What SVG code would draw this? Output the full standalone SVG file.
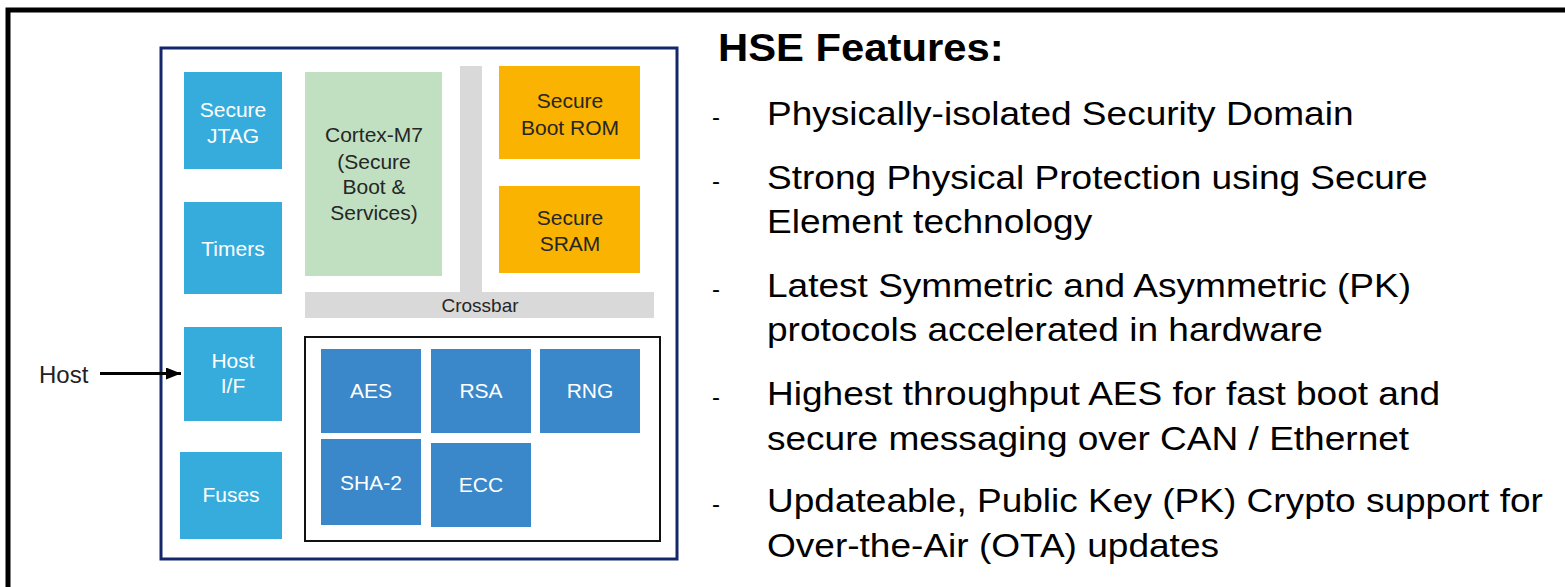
<svg xmlns="http://www.w3.org/2000/svg" width="1565" height="587" viewBox="0 0 1565 587">
<style>
text{font-family:"Liberation Sans",Arial,sans-serif}
.lb{fill:#36ACDD}
.cb{fill:#3A88C9}
.gr{fill:#C0E0C1}
.or{fill:#F9B300}
.gy{fill:#D9D9D9}
.w{fill:#FFFFFF;font-size:21px;text-anchor:middle}
.d{fill:#262626;font-size:21px;text-anchor:middle}
.f{fill:#000;font-size:32.5px}
.dash{fill:#000;font-size:24px}
</style>
<defs>
<marker id="ah" markerWidth="15" markerHeight="12" refX="15" refY="6" orient="auto" markerUnits="userSpaceOnUse">
<path d="M0,0 L15,6 L0,12 Z" fill="#000"/>
</marker>
</defs>
<rect x="8" y="10" width="1600" height="700" fill="#fff" stroke="#000" stroke-width="5"/>
<g id="hse">
<rect x="161" y="48" width="516" height="511" fill="#fff" stroke="#13276A" stroke-width="3"/>
</g>
<g id="jtag"><rect class="lb" x="184" y="72" width="98" height="97"/><text class="w" x="233" y="117">Secure</text><text class="w" x="233" y="143">JTAG</text></g>
<g id="timers"><rect class="lb" x="184" y="202" width="98" height="92"/><text class="w" x="233" y="256">Timers</text></g>
<g id="hostif"><rect class="lb" x="184" y="327" width="98" height="94"/><text class="w" x="233" y="368">Host</text><text class="w" x="233" y="393">I/F</text></g>
<g id="fuses"><rect class="lb" x="180" y="452" width="102" height="87"/><text class="w" x="231" y="502">Fuses</text></g>
<g id="cortex"><rect class="gr" x="305" y="72" width="137" height="204"/><text class="d" x="374" y="142">Cortex-M7</text><text class="d" x="374" y="169">(Secure</text><text class="d" x="374" y="194">Boot &amp;</text><text class="d" x="374" y="220">Services)</text></g>
<g id="crossbar"><rect class="gy" x="460" y="66" width="22" height="230"/><rect class="gy" x="305" y="292" width="349" height="26"/><text class="d" x="480" y="312" style="font-size:19px">Crossbar</text></g>
<g id="bootrom"><rect class="or" x="499" y="66" width="141" height="93"/><text class="d" x="570" y="108">Secure</text><text class="d" x="570" y="135">Boot ROM</text></g>
<g id="sram"><rect class="or" x="499" y="186" width="141" height="87"/><text class="d" x="570" y="225">Secure</text><text class="d" x="570" y="251">SRAM</text></g>
<g id="crypto"><rect x="305" y="337" width="355" height="204" fill="#fff" stroke="#111" stroke-width="2"/></g>
<g id="aes"><rect class="cb" x="321" y="349" width="100" height="84"/><text class="w" x="371" y="398">AES</text></g>
<g id="rsa"><rect class="cb" x="431" y="349" width="100" height="84"/><text class="w" x="481" y="398">RSA</text></g>
<g id="rng"><rect class="cb" x="540" y="349" width="100" height="84"/><text class="w" x="590" y="398">RNG</text></g>
<g id="sha2"><rect class="cb" x="321" y="439" width="100" height="86"/><text class="w" x="371" y="490">SHA-2</text></g>
<g id="ecc"><rect class="cb" x="431" y="443" width="100" height="84"/><text class="w" x="481" y="492">ECC</text></g>
<g id="host"><text x="39" y="383" style="font-size:24px;fill:#222">Host</text></g>
<g id="connectors"><line x1="100" y1="373.5" x2="181" y2="373.5" stroke="#000" stroke-width="3" marker-end="url(#ah)"/></g>
<g id="features">
<text transform="translate(718,61) scale(1.1,1)" style="font-size:38px;font-weight:bold;fill:#000">HSE Features:</text>
<text class="dash" x="712" y="125">-</text>
<text class="dash" x="712" y="189">-</text>
<text class="dash" x="712" y="297">-</text>
<text class="dash" x="712" y="405">-</text>
<text class="dash" x="712" y="512">-</text>
<g transform="translate(767,0) scale(1.14,1)">
<text class="f" x="0" y="125">Physically-isolated Security Domain</text>
<text class="f" x="0" y="189">Strong Physical Protection using Secure</text><text class="f" x="0" y="233">Element technology</text>
<text class="f" x="0" y="297">Latest Symmetric and Asymmetric (PK)</text><text class="f" x="0" y="341">protocols accelerated in hardware</text>
<text class="f" x="0" y="405">Highest throughput AES for fast boot and</text><text class="f" x="0" y="450">secure messaging over CAN / Ethernet</text>
<text class="f" x="0" y="512">Updateable, Public Key (PK) Crypto support for</text><text class="f" x="0" y="557">Over-the-Air (OTA) updates</text>
</g>
</g>
</svg>
